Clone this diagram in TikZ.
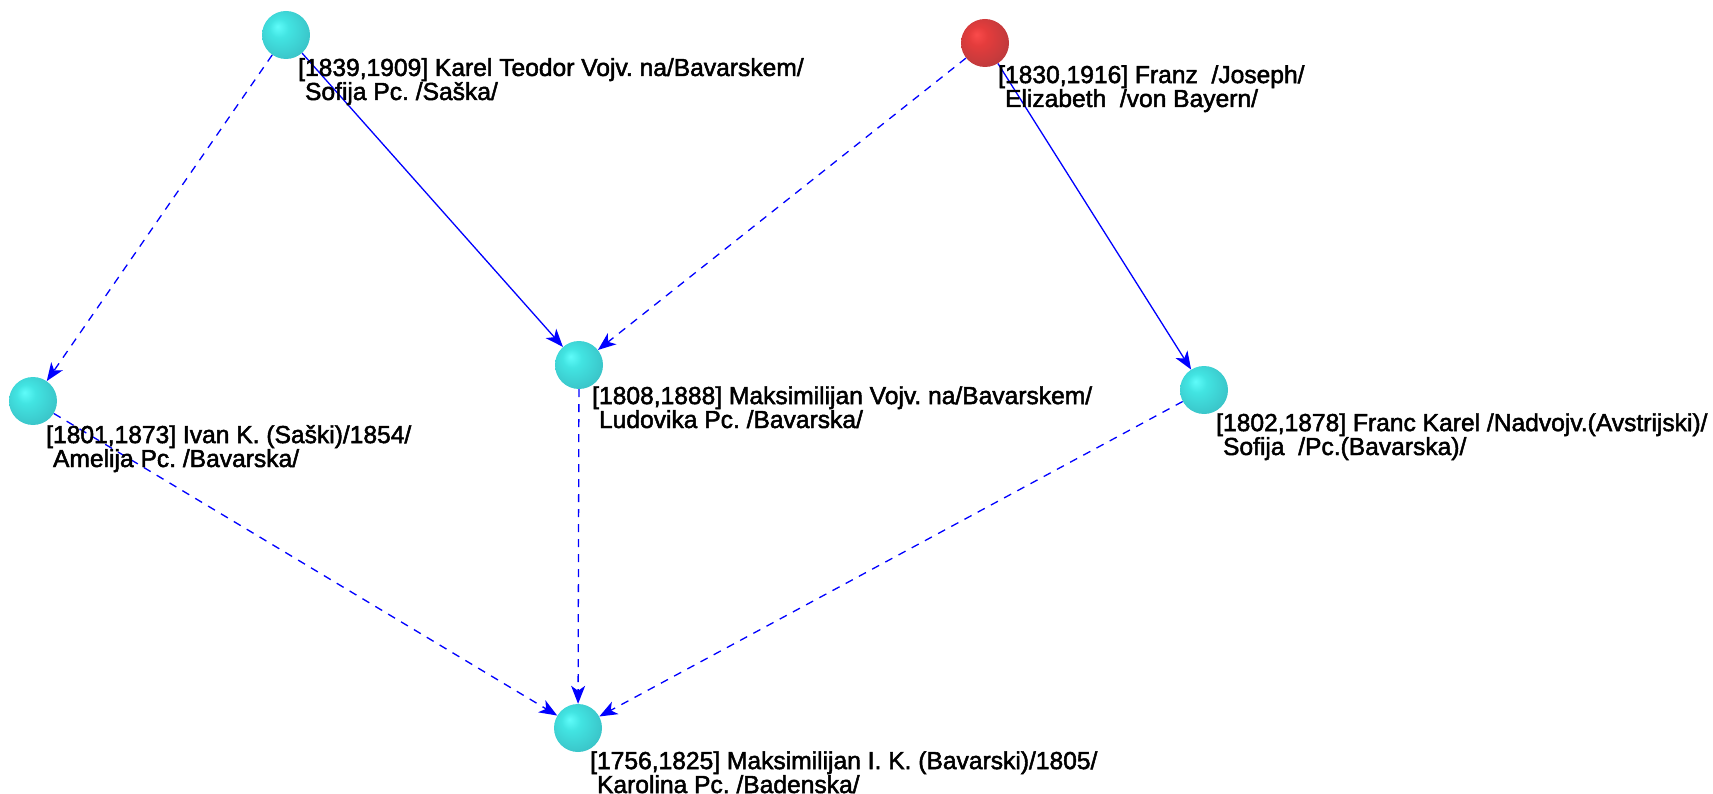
\documentclass[tikz,border=0pt]{standalone}
\usepackage{fontspec}
\setmainfont{Liberation Sans}
\newfontfamily\lblfont[FakeBold=2.0]{Liberation Sans}
\usetikzlibrary{arrows.meta}
\definecolor{cyhi}{RGB}{95,252,250}
\definecolor{cymid}{RGB}{66,228,226}
\definecolor{cylo}{RGB}{58,196,200}
\definecolor{rdhi}{RGB}{250,75,75}
\definecolor{rdmid}{RGB}{228,60,60}
\definecolor{rdlo}{RGB}{190,58,60}
\definecolor{edgeblue}{RGB}{0,0,255}
\pgfdeclareradialshading{cyanball}{\pgfpoint{-9bp}{9bp}}{color(0bp)=(cyhi); color(10bp)=(cymid); color(30bp)=(cylo); color(50bp)=(cylo)}
\pgfdeclareradialshading{redball}{\pgfpoint{-9bp}{9bp}}{color(0bp)=(rdhi); color(10bp)=(rdmid); color(30bp)=(rdlo); color(50bp)=(rdlo)}
\tikzset{
  person/.style={circle, minimum size=48pt, inner sep=0pt, shading=cyanball},
  root/.style={circle, minimum size=48pt, inner sep=0pt, shading=redball},
  namelabel/.style={anchor=base west, inner sep=0pt, align=left, font=\lblfont\fontsize{24.6}{22}\selectfont\frenchspacing},
  link/.style={draw=edgeblue, line width=1.3pt, -{Stealth[length=18pt,width=14pt,inset=5pt]}},
  dlink/.style={link, dash pattern=on 8pt off 7pt},
}
\begin{document}
\begin{tikzpicture}[x=1pt,y=-1pt]
\useasboundingbox (0,0) rectangle (1713,794);
\node[person] (karel) at (286,35) {};
\node[root]   (franz) at (985,43) {};
\node[person] (ivan)  at (33,401) {};
\node[person] (maksv) at (579,365) {};
\node[person] (franc) at (1204,390) {};
\node[person] (maksi) at (578,728) {};

\draw[dlink] (karel) -- (ivan);
\draw[link]  (karel) -- (maksv);
\draw[dlink] (franz) -- (maksv);
\draw[link]  (franz) -- (franc);
\draw[dlink] (ivan)  -- (maksi);
\draw[dlink] (maksv) -- (maksi);
\draw[dlink] (franc) -- (maksi);

\node[namelabel] (lkarel) at (298,100) {[1839,1909] Karel Teodor Vojv. na/Bavarskem/\\~Sofija Pc. /Saška/};
\node[namelabel] (lfranz) at (998,107) {[1830,1916] Franz~ /Joseph/\\~Elizabeth~ /von Bayern/};
\node[namelabel] (livan)  at (46,467) {[1801,1873] Ivan K. (Saški)/1854/\\~Amelija Pc. /Bavarska/};
\node[namelabel] (lmaksv) at (592,428) {[1808,1888] Maksimilijan Vojv. na/Bavarskem/\\~Ludovika Pc. /Bavarska/};
\node[namelabel] (lfranc) at (1216,455) {[1802,1878] Franc Karel /Nadvojv.(Avstrijski)/\\~Sofija~ /Pc.(Bavarska)/};
\node[namelabel] (lmaksi) at (590,793) {[1756,1825] Maksimilijan I. K. (Bavarski)/1805/\\~Karolina Pc. /Badenska/};
\end{tikzpicture}
\end{document}
